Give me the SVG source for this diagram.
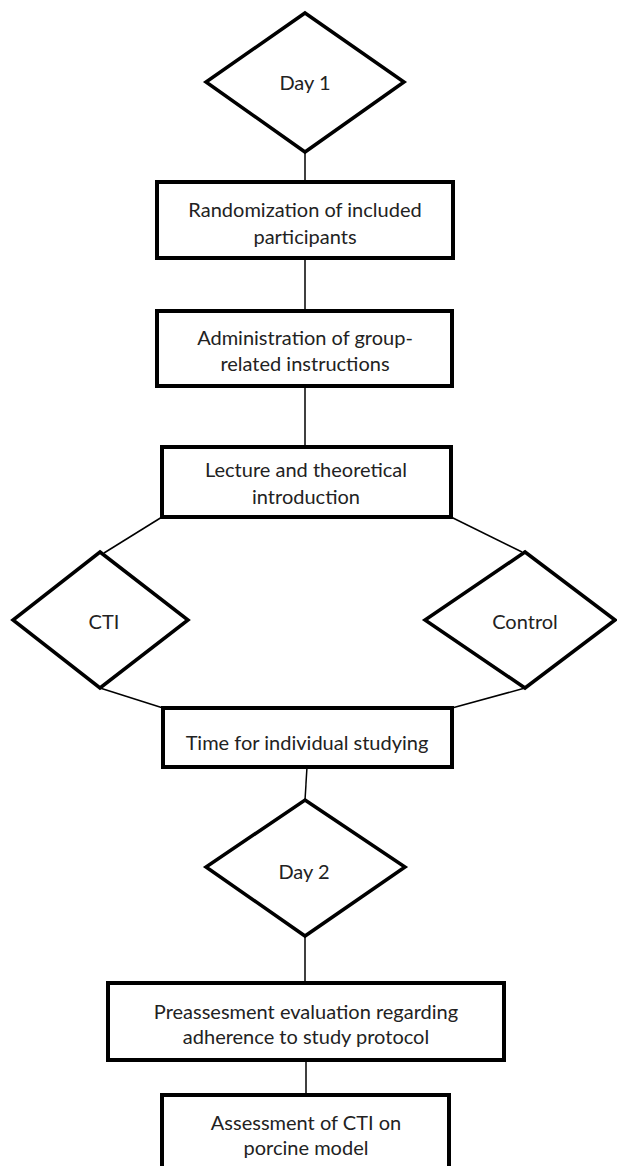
<svg xmlns="http://www.w3.org/2000/svg" width="617" height="1166" viewBox="0 0 617 1166">
<style>
.box{fill:#fff;stroke:#000;stroke-width:4}
.dia{fill:#fff;stroke:#000;stroke-width:3.5;stroke-linejoin:miter}
.con{fill:none;stroke:#000;stroke-width:1.5}
text{font-family:Lato,"Open Sans","Liberation Sans",sans-serif;font-size:20px;fill:#222;text-anchor:middle}
</style>
<rect width="617" height="1166" fill="#fff"/>
<g id="connectors">
<line class="con" x1="305" y1="152" x2="305" y2="182"/>
<line class="con" x1="305" y1="258" x2="305" y2="311"/>
<line class="con" x1="305" y1="386" x2="305" y2="447"/>
<line class="con" x1="162" y1="517" x2="104" y2="553"/>
<line class="con" x1="451" y1="517" x2="522" y2="552"/>
<line class="con" x1="100" y1="688" x2="163" y2="708"/>
<line class="con" x1="525" y1="688" x2="452" y2="708"/>
<line class="con" x1="307" y1="767" x2="305" y2="800"/>
<line class="con" x1="305" y1="936" x2="305" y2="983"/>
<line class="con" x1="306" y1="1060" x2="306" y2="1095"/>
</g>
<g id="day1">
<polygon class="dia" points="305,13 404,82 305,152 206,82"/>
<text x="305" y="90">Day 1</text>
</g>
<g id="randomization">
<rect class="box" x="157" y="182" width="296" height="76"/>
<text x="305" y="217">Randomization of included</text>
<text x="305" y="244">participants</text>
</g>
<g id="administration">
<rect class="box" x="157" y="311" width="295" height="75"/>
<text x="305" y="345">Administration of group-</text>
<text x="305" y="371">related instructions</text>
</g>
<g id="lecture">
<rect class="box" x="162" y="447" width="289" height="70"/>
<text x="306" y="477">Lecture and theoretical</text>
<text x="306" y="504">introduction</text>
</g>
<g id="cti">
<polygon class="dia" points="100,552 188,620 100,688 13,620"/>
<text x="104" y="629">CTI</text>
</g>
<g id="control">
<polygon class="dia" points="525,552 615,620 525,688 425,620"/>
<text x="525" y="629">Control</text>
</g>
<g id="time">
<rect class="box" x="163" y="708" width="289" height="59"/>
<text x="307" y="750">Time for individual studying</text>
</g>
<g id="day2">
<polygon class="dia" points="305,800 405,867 305,936 206,867"/>
<text x="304" y="879">Day 2</text>
</g>
<g id="preassessment">
<rect class="box" x="108" y="983" width="396" height="77"/>
<text x="306" y="1019">Preassesment evaluation regarding</text>
<text x="306" y="1044">adherence to study protocol</text>
</g>
<g id="assessment">
<rect class="box" x="162" y="1095" width="287" height="80"/>
<text x="306" y="1130">Assessment of CTI on</text>
<text x="306" y="1155">porcine model</text>
</g>
</svg>
